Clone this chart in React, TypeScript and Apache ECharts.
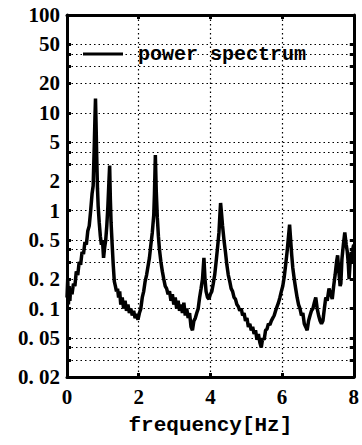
import React, { useEffect, useRef } from "react";
import * as echarts from "echarts";

const freq = [
  0.0, 0.02, 0.04, 0.06, 0.08, 0.1, 0.14, 0.18, 0.22, 0.26, 0.3, 0.34, 0.38, 0.42, 0.46, 0.5, 0.54, 0.58, 0.62, 0.66,
  0.7, 0.73, 0.76, 0.78, 0.795, 0.81, 0.83, 0.85, 0.87, 0.9, 0.93, 0.96, 0.99, 1.02, 1.05, 1.08, 1.11, 1.14, 1.17, 1.19,
  1.21, 1.23, 1.26, 1.29, 1.32, 1.35, 1.38, 1.41, 1.44, 1.47, 1.5, 1.54, 1.58, 1.62, 1.66, 1.7, 1.74, 1.78, 1.82, 1.86,
  1.9, 1.94, 1.98, 2.02, 2.06, 2.1, 2.14, 2.18, 2.22, 2.26, 2.3, 2.34, 2.38, 2.42, 2.44, 2.465, 2.49, 2.52, 2.55, 2.58,
  2.62, 2.66, 2.7, 2.74, 2.78, 2.82, 2.86, 2.9, 2.94, 2.98, 3.02, 3.06, 3.1, 3.14, 3.18, 3.22, 3.26, 3.3, 3.34, 3.38,
  3.42, 3.46, 3.5, 3.54, 3.58, 3.62, 3.66, 3.7, 3.74, 3.78, 3.82, 3.85, 3.88, 3.92, 3.96, 4.0, 4.04, 4.08, 4.12, 4.16,
  4.2, 4.24, 4.265, 4.285, 4.31, 4.34, 4.38, 4.42, 4.46, 4.5, 4.54, 4.58, 4.62, 4.66, 4.7, 4.74, 4.78, 4.82, 4.86, 4.9,
  4.94, 4.98, 5.02, 5.06, 5.1, 5.14, 5.18, 5.22, 5.26, 5.3, 5.34, 5.38, 5.42, 5.46, 5.5, 5.54, 5.58, 5.62, 5.66, 5.7,
  5.74, 5.78, 5.82, 5.86, 5.9, 5.94, 5.98, 6.02, 6.06, 6.1, 6.14, 6.17, 6.21, 6.24, 6.27, 6.3, 6.34, 6.38, 6.42, 6.46,
  6.5, 6.54, 6.58, 6.62, 6.66, 6.7, 6.74, 6.78, 6.82, 6.86, 6.9, 6.94, 6.98, 7.02, 7.06, 7.1, 7.14, 7.18, 7.22, 7.26,
  7.31, 7.36, 7.4, 7.44, 7.48, 7.52, 7.55, 7.58, 7.62, 7.64, 7.67, 7.71, 7.75, 7.79, 7.82, 7.85, 7.87, 7.9, 7.93, 7.96,
  7.98, 8.0,
];

const power = [
  0.13, 0.2, 0.11, 0.17, 0.12, 0.16, 0.14, 0.18, 0.17, 0.24, 0.22, 0.3, 0.28, 0.38, 0.36, 0.48, 0.45, 0.62, 0.7, 1.0,
  1.5, 1.8, 4.5, 9, 14, 8, 3.5, 1.7, 1.1, 0.75, 0.55, 0.45, 0.5, 0.33, 0.42, 0.5, 0.7, 1.1, 2.0, 2.9,
  1.3, 0.75, 0.45, 0.28, 0.19, 0.17, 0.15, 0.16, 0.13, 0.15, 0.11, 0.13, 0.1, 0.12, 0.095, 0.11, 0.09, 0.1, 0.085, 0.095,
  0.08, 0.088, 0.077, 0.09, 0.1, 0.13, 0.15, 0.19, 0.22, 0.27, 0.33, 0.45, 0.6, 0.9, 1.5, 3.7, 1.6, 0.85, 0.55, 0.4,
  0.3, 0.24, 0.2, 0.17, 0.16, 0.14, 0.15, 0.12, 0.14, 0.11, 0.13, 0.1, 0.12, 0.095, 0.11, 0.09, 0.115, 0.085, 0.1, 0.08,
  0.09, 0.065, 0.06, 0.075, 0.08, 0.09, 0.1, 0.13, 0.16, 0.2, 0.33, 0.2, 0.15, 0.13, 0.125, 0.14, 0.15, 0.18, 0.22, 0.3,
  0.42, 0.6, 0.9, 1.2, 0.95, 0.7, 0.5, 0.38, 0.28, 0.22, 0.19, 0.16, 0.15, 0.13, 0.125, 0.11, 0.105, 0.095, 0.1, 0.085,
  0.09, 0.075, 0.08, 0.065, 0.07, 0.06, 0.065, 0.055, 0.06, 0.048, 0.055, 0.045, 0.04, 0.05, 0.048, 0.06, 0.062, 0.07, 0.068, 0.075,
  0.08, 0.085, 0.095, 0.105, 0.115, 0.13, 0.15, 0.17, 0.21, 0.28, 0.38, 0.5, 0.72, 0.5, 0.35, 0.26, 0.2, 0.16, 0.13, 0.11,
  0.1, 0.085, 0.09, 0.07, 0.065, 0.06, 0.075, 0.085, 0.095, 0.1, 0.115, 0.13, 0.1, 0.085, 0.075, 0.07, 0.075, 0.1, 0.13, 0.12,
  0.16, 0.14, 0.125, 0.17, 0.22, 0.3, 0.35, 0.25, 0.17, 0.18, 0.32, 0.45, 0.6, 0.45, 0.38, 0.28, 0.2, 0.3, 0.38, 0.3,
  0.42, 0.45,
];

const yLabelValues = [0.02, 0.05, 0.1, 0.2, 0.5, 1, 2, 5, 10, 20, 50, 100];
const yLabelTexts = ["0. 02", "0. 05", "0. 1", "0. 2", "0. 5", "1", "2", "5", "10", "20", "50", "100"];
const yGridValues = [0.03, 0.04, 0.05, 0.1, 0.2, 0.3, 0.4, 0.5, 1, 2, 3, 4, 5, 10, 20, 30, 40, 50];
const xTicks = [0, 2, 4, 6, 8];

const Y_MIN = 0.02;
const Y_MAX = 100;

export default function App() {
  const ref = useRef<HTMLDivElement>(null);
  useEffect(() => {
    if (!ref.current) return;
    const chart = echarts.init(ref.current, null, { renderer: "svg" });
    const lg = (v: number) => Math.log10(v);
    const yLabelLog = yLabelValues.map(lg);
    const yGridLog = yGridValues.map(lg);
    const labelFont = {
      fontFamily: "'Liberation Serif', serif",
      fontWeight: "bold" as const,
      fontSize: 21,
      color: "#000",
    };
    const dotted = { color: "#000", width: 1.2, type: [1.5, 3] as number[] };
    chart.setOption({
      animation: false,
      backgroundColor: "#fff",
      grid: { left: 67, right: 6, top: 15, bottom: 68, containLabel: false },
      legend: {
        left: 78,
        top: 39,
        icon: "rect",
        itemWidth: 40,
        itemHeight: 3,
        textStyle: {
          fontFamily: "'Liberation Mono', monospace",
          fontWeight: "bold",
          fontSize: 20,
          color: "#000",
          padding: [4, 0, 0, 10],
        },
        data: ["power spectrum"],
      },
      xAxis: [
        {
          type: "value",
          min: 0,
          max: 8,
          interval: 2,
          position: "bottom",
          name: "frequency[Hz]",
          nameLocation: "middle",
          nameGap: 38,
          nameTextStyle: {
            fontFamily: "'Liberation Mono', monospace",
            fontWeight: "bold",
            fontSize: 21,
            color: "#000",
          },
          axisLine: { show: true, onZero: false, lineStyle: { color: "#000", width: 3 } },
          axisTick: { show: true, inside: true, length: 4, lineStyle: { color: "#000", width: 3 } },
          axisLabel: {
            ...labelFont,
            margin: 9,
            customValues: xTicks,
            formatter: (v: number) => String(v),
          },
          splitLine: { show: true, lineStyle: dotted },
        },
        {
          type: "value",
          min: 0,
          max: 8,
          interval: 2,
          position: "top",
          axisLine: { show: true, onZero: false, lineStyle: { color: "#000", width: 3 } },
          axisTick: { show: true, inside: true, length: 4, lineStyle: { color: "#000", width: 3 } },
          axisLabel: { show: false },
          splitLine: { show: false },
        },
      ],
      yAxis: [
        {
          type: "value",
          min: lg(Y_MIN),
          max: lg(Y_MAX),
          position: "left",
          axisLine: { show: true, onZero: false, lineStyle: { color: "#000", width: 3 } },
          axisTick: {
            show: true,
            inside: true,
            length: 4,
            customValues: yGridLog,
            lineStyle: { color: "#000", width: 3 },
          },
          axisLabel: {
            ...labelFont,
            margin: 7,
            customValues: yLabelLog,
            formatter: (v: number) => {
              let best = 0;
              let bd = Infinity;
              yLabelLog.forEach((lv, i) => {
                const d = Math.abs(lv - v);
                if (d < bd) {
                  bd = d;
                  best = i;
                }
              });
              return yLabelTexts[best];
            },
          },
          splitLine: { show: true, lineStyle: dotted },
        },
        {
          type: "value",
          min: lg(Y_MIN),
          max: lg(Y_MAX),
          position: "right",
          axisLine: { show: true, onZero: false, lineStyle: { color: "#000", width: 3 } },
          axisTick: {
            show: true,
            inside: true,
            length: 4,
            customValues: yGridLog,
            lineStyle: { color: "#000", width: 3 },
          },
          axisLabel: { show: false },
          splitLine: { show: false },
        },
      ],
      series: [
        {
          name: "power spectrum",
          type: "line",
          xAxisIndex: 0,
          yAxisIndex: 0,
          showSymbol: false,
          symbol: "none",
          color: "#000",
          lineStyle: { color: "#000", width: 3.5 },
          data: freq.map((f, i) => [f, lg(power[i])]),
        },
      ],
    });
    return () => chart.dispose();
  }, []);
  return (
    <div
      ref={ref}
      style={{ position: "absolute", left: 0, top: 0, width: 362, height: 445 }}
    />
  );
}
